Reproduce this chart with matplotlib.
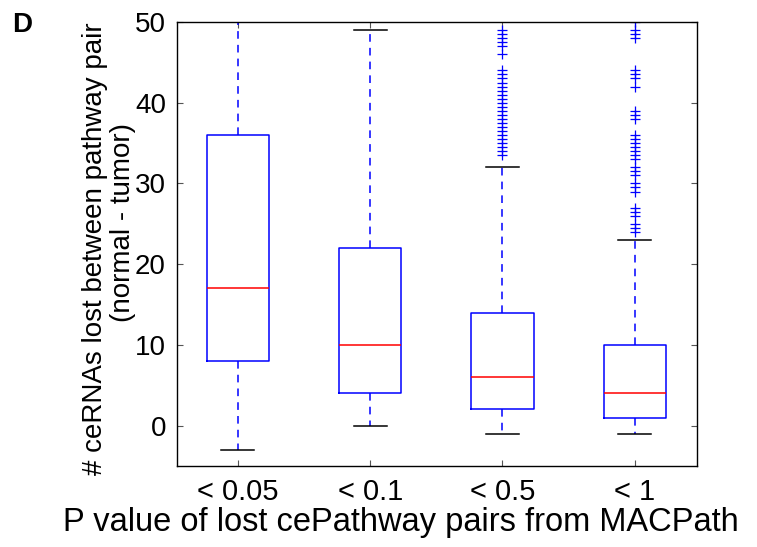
import matplotlib
matplotlib.use("Agg")
import matplotlib.pyplot as plt

plt.rcParams['font.family'] = ['Liberation Sans', 'DejaVu Sans']

categories = ['< 0.05', '< 0.1', '< 0.5', '< 1']
q1 = [8, 4, 2, 1]
q3 = [36, 22, 14, 10]
medians = [17, 10, 6, 4]
whisker_low = [-3, 0, -1, -1]
whisker_high = [60, 49, 32, 23]
fliers_1 = []
fliers_2 = []
fliers_3 = [49, 48.5, 48, 47.5, 47, 46,
            44, 43.5, 43, 42.5, 42, 41.5, 41, 40.5, 40, 39.5, 39, 38.5,
            38, 37.5, 37, 36.5, 36, 35.5, 35, 34.5, 34, 33.5]
fliers_4 = [50, 49, 48.5, 48, 44, 43.5, 43, 42, 39, 38.5, 38, 36, 35.5,
            35, 34.5, 34, 33.5, 33, 32, 31.5, 31, 30, 29.5, 29, 27, 26.5,
            26, 25, 24.5, 24]
fliers = [fliers_1, fliers_2, fliers_3, fliers_4]
yticks = [0, 10, 20, 30, 40, 50]

stats = []
for i in range(len(categories)):
    stats.append(dict(med=medians[i], q1=q1[i], q3=q3[i],
                      whislo=whisker_low[i], whishi=whisker_high[i],
                      fliers=fliers[i], label=categories[i]))

W, H = 757, 547
fig = plt.figure(figsize=(W / 100, H / 100), dpi=100)
ax = fig.add_axes([0.2338, 0.1481, 0.6869, 0.8117])

ax.bxp(stats, positions=[1, 2, 3, 4], widths=0.47,
       boxprops=dict(color='#0000ff', linewidth=1.1),
       medianprops=dict(color='#ff0000', linewidth=1.1),
       whiskerprops=dict(color='#0000ff', linestyle=(0, (5, 4)), linewidth=1.1),
       capprops=dict(color='#000000', linewidth=1.1),
       flierprops=dict(marker='+', markeredgecolor='#0000ff', markersize=7,
                       markeredgewidth=0.9, linestyle='none'),
       capwidths=0.25)

ax.set_xlim(0.54, 4.47)
ax.set_ylim(-5, 50)
ax.set_yticks(yticks)
ax.set_xticks([1, 2, 3, 4])
ax.set_xticklabels(categories)
ax.tick_params(axis='both', direction='in', length=4, width=0.8, color='#555555',
               top=True, right=True)
ax.tick_params(axis='y', labelsize=20, pad=8)
ax.tick_params(axis='x', labelsize=21, pad=9)
for s in ax.spines.values():
    s.set_linewidth(1.0)
    s.set_color('#000000')

fig.text(95 / W, 1 - 249 / H, '# ceRNAs lost between pathway pair', fontsize=20,
         rotation=90, ha='center', va='center')
fig.text(123 / W, 1 - 222 / H, '(normal - tumor)', fontsize=20,
         rotation=90, ha='center', va='center')
fig.text(401 / W, 1 - 522 / H, 'P value of lost cePathway pairs from MACPath',
         fontsize=23.5, ha='center', va='center')

fig.text(12 / W, 1 - 32 / H, 'D', fontsize=20, fontweight='bold')

fig.savefig('out.png', dpi=100)
